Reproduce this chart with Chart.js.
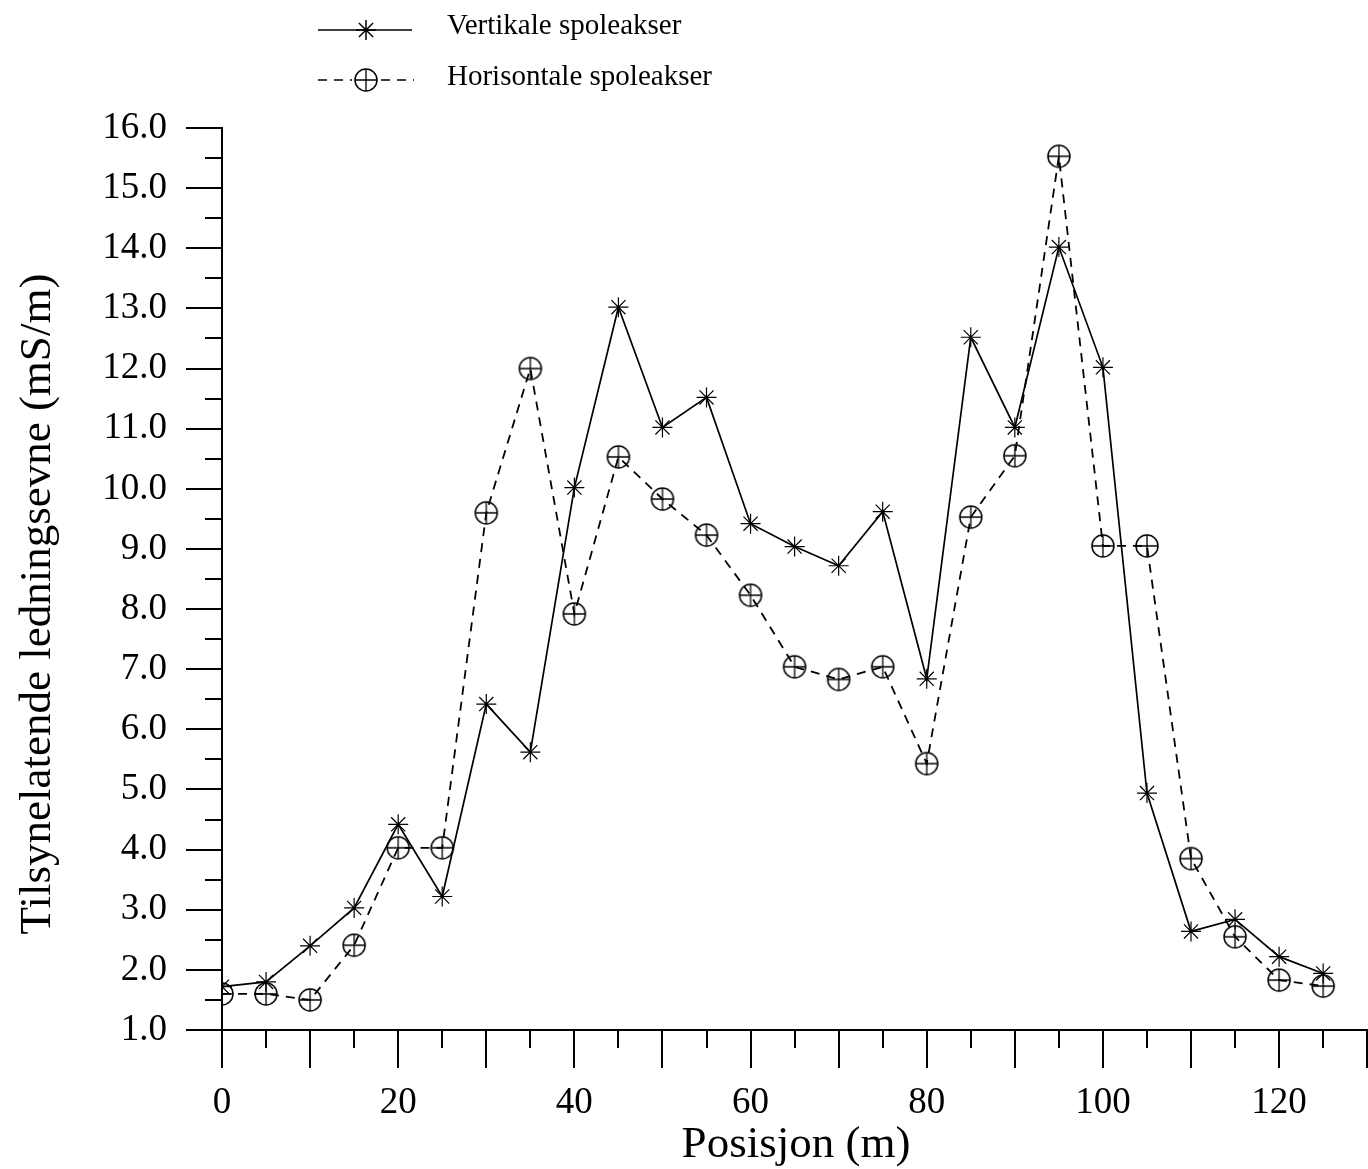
<!DOCTYPE html>
<html>
<head>
<meta charset="utf-8">
<title>Tilsynelatende ledningsevne</title>
<script src="https://cdn.jsdelivr.net/npm/chart.js"></script>
<style>
  html, body { margin: 0; padding: 0; background: #fff; overflow: hidden; }
  #chart { display: block; }
</style>
</head>
<body>
<canvas id="chart" width="1380" height="1169"></canvas>
<script>
// posisjon langs profilet (m)
const positions = [0, 5, 10, 15, 20, 25, 30, 35, 40, 45, 50, 55, 60, 65, 70, 75, 80, 85, 90, 95, 100, 105, 110, 115, 120, 125];
// tilsynelatende ledningsevne (mS/m)
const vertikale = [1.72, 1.8, 2.4, 3.03, 4.42, 3.22, 6.42, 5.62, 10.02, 13.02, 11.02, 11.52, 9.42, 9.04, 8.72, 9.62, 6.84, 12.52, 11.02, 14.02, 12.02, 4.94, 2.64, 2.84, 2.22, 1.94];
const horisontale = [1.6, 1.6, 1.5, 2.41, 4.03, 4.03, 9.6, 12.0, 7.92, 10.53, 9.83, 9.23, 8.23, 7.04, 6.83, 7.04, 5.43, 9.53, 10.55, 15.53, 9.05, 9.05, 3.85, 2.55, 1.83, 1.73];

const legendLabels = ['Vertikale spoleakser', 'Horisontale spoleakser'];
const xTitle = 'Posisjon (m)';
const yTitle = 'Tilsynelatende ledningsevne (mS/m)';

const serif = '"Liberation Serif", "Times New Roman", serif';

// sirkel med kryss, som markør for horisontale spoleakser
function makeCirclePlus(r) {
    const c = document.createElement('canvas');
    const s = Math.ceil(r * 2 + 4);
    c.width = s; c.height = s;
    const g = c.getContext('2d');
    const m = s / 2;
    g.strokeStyle = '#000';
    g.lineWidth = 1.5;
    g.beginPath();
    g.arc(m, m, r, 0, Math.PI * 2);
    g.stroke();
    g.lineWidth = 1.3;
    g.beginPath();
    g.moveTo(m - r, m); g.lineTo(m + r, m);
    g.moveTo(m, m - r); g.lineTo(m, m + r);
    g.stroke();
    return c;
}
const circlePlus = makeCirclePlus(11);

const toXY = arr => arr.map((v, i) => ({ x: positions[i], y: v }));

const tickMarks = {
    id: 'tickMarks',
    afterDraw(chart) {
        const ctx = chart.ctx;
        const xs = chart.scales.x, ys = chart.scales.y;
        const area = chart.chartArea;
        ctx.save();
        ctx.strokeStyle = '#000';
        ctx.lineWidth = 2;
        ctx.beginPath();
        for (let v = ys.min; v <= ys.max + 1e-9; v += 0.5) {
            const y = Math.round(ys.getPixelForValue(v));
            const len = Number.isInteger(v) ? 36 : 17;
            ctx.moveTo(area.left - len, y);
            ctx.lineTo(area.left, y);
        }
        for (let v = xs.min; v <= xs.max; v += 5) {
            const x = Math.round(xs.getPixelForValue(v));
            const len = v % 10 === 0 ? 38 : 18;
            ctx.moveTo(x, area.bottom);
            ctx.lineTo(x, area.bottom + len);
        }
        ctx.stroke();

        // aksetitler
        ctx.fillStyle = '#000';
        ctx.font = '45px ' + serif;
        ctx.textAlign = 'center';
        ctx.textBaseline = 'alphabetic';
        ctx.fillText(xTitle, 796, 1157);
        ctx.save();
        ctx.translate(50, 604);
        ctx.rotate(-Math.PI / 2);
        ctx.fillText(yTitle, 0, 0);
        ctx.restore();

        // tegnforklaring
        ctx.font = '29px ' + serif;
        ctx.textAlign = 'left';
        ctx.textBaseline = 'middle';
        ctx.lineWidth = 1.5;
        ctx.beginPath();
        ctx.moveTo(318, 30); ctx.lineTo(412, 30);
        ctx.stroke();
        Chart.helpers.drawPoint(ctx, { pointStyle: 'star', radius: 10, borderWidth: 1.2 }, 366, 30);
        ctx.fillText(legendLabels[0], 447, 26);

        ctx.setLineDash([9, 7]);
        ctx.beginPath();
        ctx.moveTo(318, 80); ctx.lineTo(352, 80);
        ctx.moveTo(381, 80); ctx.lineTo(414, 80);
        ctx.stroke();
        ctx.setLineDash([]);
        ctx.drawImage(circlePlus, 366 - circlePlus.width / 2, 80 - circlePlus.height / 2);
        ctx.fillText(legendLabels[1], 447, 77);
        ctx.restore();
    }
};

const ctx = document.getElementById('chart').getContext('2d');
const chart = new Chart(ctx, {
    type: 'line',
    data: {
        datasets: [{
            label: legendLabels[0],
            data: toXY(vertikale),
            borderColor: '#000',
            borderWidth: 1.7,
            pointStyle: 'star',
            pointRadius: 10,
            pointBorderWidth: 1.2,
            pointBorderColor: '#000',
            tension: 0,
            fill: false
        }, {
            label: legendLabels[1],
            data: toXY(horisontale),
            borderColor: '#000',
            borderWidth: 1.8,
            borderDash: [9, 7],
            pointStyle: circlePlus,
            pointRadius: 11,
            tension: 0,
            fill: false
        }]
    },
    options: {
        responsive: false,
        animation: false,
        layout: { padding: { top: 128, right: 0, left: 0, bottom: 0 } },
        plugins: {
            legend: { display: false },
            tooltip: { enabled: false }
        },
        scales: {
            x: {
                type: 'linear',
                min: 0,
                max: 130,
                border: { display: true, color: '#000', width: 2 },
                grid: { display: false, drawTicks: false, tickLength: 0 },
                ticks: {
                    stepSize: 5,
                    autoSkip: false,
                    maxRotation: 0,
                    padding: 51,
                    color: '#000',
                    font: { family: serif, size: 37 },
                    callback: v => (v % 20 === 0 && v <= 120) ? String(v) : ''
                },
                afterFit: s => { s.height = 139; s.paddingRight = 0; }
            },
            y: {
                min: 1,
                max: 16,
                border: { display: true, color: '#000', width: 2 },
                grid: { display: false, drawTicks: false, tickLength: 0 },
                ticks: {
                    stepSize: 0.5,
                    autoSkip: false,
                    padding: 55,
                    color: '#000',
                    font: { family: serif, size: 37 },
                    callback: v => Number.isInteger(v) ? v.toFixed(1) : ''
                },
                afterFit: s => { s.width = 222; }
            }
        }
    },
    plugins: [tickMarks]
});
</script>
</body>
</html>
